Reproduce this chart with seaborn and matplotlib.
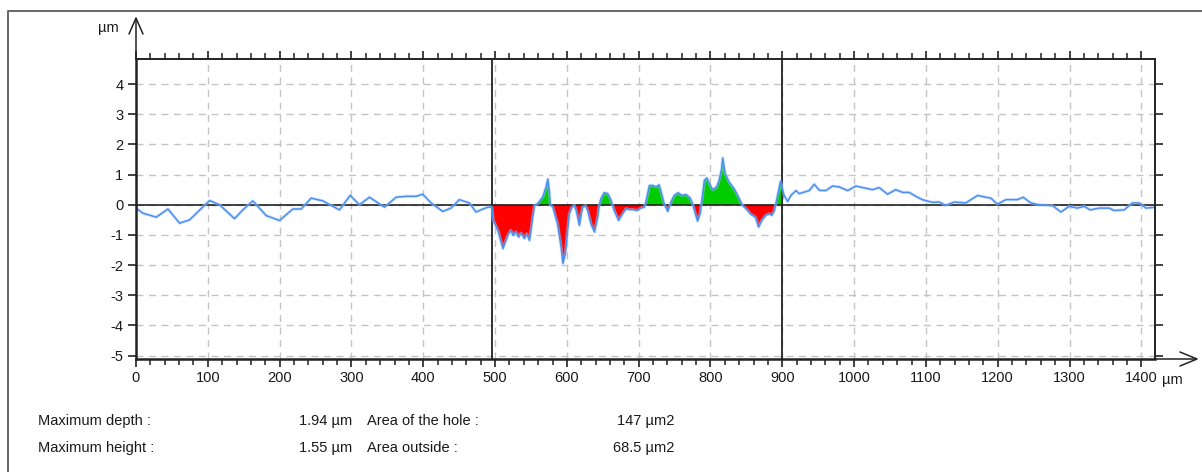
import numpy as np
import pandas as pd
import matplotlib
matplotlib.use("Agg")
import matplotlib.pyplot as plt
from matplotlib.ticker import MultipleLocator
from matplotlib.lines import Line2D
import seaborn as sns

# Surface profile (position in µm, height in µm)
profile_x = [0, 9.7, 28.2, 44.5, 60.7, 74.6, 102.4, 116.4, 137.2, 148.8, 162.7, 181.3,
             199.9, 218.4, 230.0, 243.9, 260.2, 283.4, 298.2, 311.2, 325.1, 346.0, 362.2,
             376.1, 390.0, 399.3, 410.9, 427.1, 438.7, 450.3, 464.2, 473.5, 482, 490,
             495.5, 497.5, 504, 511, 518, 522, 525, 529, 533, 536, 541, 544, 548, 550,
             552.5, 555, 559.5, 566.5, 571, 573.5, 575.5, 577, 580.5, 587, 592, 594.5,
             598, 601, 603.5, 607, 610.5, 613, 617.5, 620, 622, 626, 629, 633.5, 638.5,
             643, 645, 647.5, 652, 657, 661.5, 666, 672, 677.5, 682.5, 687, 691.5, 698.5,
             703, 708, 710, 715, 719.5, 724, 728.5, 732.5, 735.5, 740.5, 745, 749.5, 755,
             760, 766, 771.5, 775, 779, 782, 785.5, 788, 791.5, 795, 798.5, 803, 808.5,
             812, 815.5, 817, 820.5, 826, 833, 839, 844.5, 849.5, 856, 862.5, 867, 871.5,
             877, 882, 885.5, 889, 892.5, 897.5, 902.5, 907.5, 912, 919, 923.5, 930.5,
             937.5, 944.5, 951.5, 960.5, 970, 979.5, 991, 1002.5, 1014, 1025.5, 1035,
             1046.5, 1058, 1067.5, 1076.5, 1086, 1095, 1109, 1118.5, 1127.5, 1139.5,
             1155.5, 1172, 1183.5, 1190.5, 1199.5, 1211.5, 1227.5, 1235.5, 1246, 1257.5,
             1276.5, 1288, 1299.5, 1311, 1320.5, 1328.5, 1341.5, 1355, 1362, 1376,
             1387.5, 1397, 1406.5, 1416.5]
profile_y = [-0.11, -0.28, -0.41, -0.14, -0.61, -0.50, 0.14, 0.0, -0.46, -0.17, 0.13, -0.36,
             -0.52, -0.14, -0.14, 0.22, 0.13, -0.17, 0.31, 0.0, 0.25, -0.08, 0.25,
             0.28, 0.28, 0.35, 0.06, -0.22, -0.11, 0.17, 0.06, -0.24, -0.15, -0.08,
             -0.08, -0.52, -0.85, -1.45, -1.01, -0.85, -1.01, -0.90, -1.07, -0.94, -1.12, -0.96, -1.18, -0.85,
             -0.41, -0.02, 0.04, 0.26, 0.59, 0.85, 0.48, 0.0, -0.08, -0.63, -1.40, -1.94,
             -1.62, -0.85, -0.30, -0.08, -0.02, -0.19, -0.68, -0.30, -0.08, -0.03, -0.19, -0.63, -0.90,
             -0.41, -0.02, 0.20, 0.40, 0.37, 0.15, -0.19, -0.52, -0.30, -0.13, -0.16, -0.16, -0.19,
             -0.11, -0.08, 0.09, 0.64, 0.64, 0.59, 0.66, 0.31, 0.04, -0.22, 0.09, 0.31, 0.40,
             0.31, 0.34, 0.23, 0.04, -0.30, -0.54, -0.30, 0.15, 0.81, 0.89, 0.70, 0.50, 0.59,
             0.81, 1.19, 1.55, 1.03, 0.75, 0.53, 0.26, -0.02, -0.13, -0.31, -0.41, -0.74, -0.52,
             -0.35, -0.30, -0.35, -0.19, 0.20, 0.78, 0.31, 0.11, 0.31, 0.47, 0.37, 0.42,
             0.47, 0.68, 0.48, 0.47, 0.62, 0.59, 0.47, 0.62, 0.56, 0.50, 0.57,
             0.35, 0.50, 0.41, 0.41, 0.28, 0.17, 0.08, 0.09, -0.02, 0.09,
             0.06, 0.31, 0.25, 0.22, 0.02, 0.17, 0.17, 0.25, 0.06, 0.0,
             -0.03, -0.24, -0.05, -0.11, -0.05, -0.17, -0.11, -0.11, -0.19, -0.17,
             0.06, 0.06, -0.11, -0.09]

# Limits of the evaluated hole
hole_bounds = [495.5, 900]

# Summary values
stat_labels_left = ["Maximum depth :", "Maximum height :"]
stat_values_left = ["1.94 µm", "1.55 µm"]
stat_labels_right = ["Area of the hole :", "Area outside :"]
stat_values_right = ["147 µm2", "68.5 µm2"]

x_ticks = list(range(0, 1401, 100))
y_ticks = list(range(-5, 5))

sns.set_theme(style="white")
plt.rcParams["font.family"] = ["Liberation Sans", "DejaVu Sans"]
plt.rcParams["axes.unicode_minus"] = False

W, H = 1202, 472
fig = plt.figure(figsize=(W / 100, H / 100), dpi=100)
ax = fig.add_axes([136 / W, 1 - 359 / H, (1155 - 136) / W, (359 - 59) / H])

df = pd.DataFrame({"x": profile_x, "y": profile_y})

# Fill the hole region: below zero red, above zero green
xa = np.array(profile_x, dtype=float)
ya = np.array(profile_y, dtype=float)
xs = np.union1d(xa, hole_bounds)
ys = np.interp(xs, xa, ya)
inside = (xs >= hole_bounds[0]) & (xs <= hole_bounds[1])
ax.fill_between(xs, ys, 0, where=inside & (ys <= 0), interpolate=True,
                color="#ff0000", linewidth=0, zorder=2)
ax.fill_between(xs, ys, 0, where=inside & (ys >= 0), interpolate=True,
                color="#00cc00", linewidth=0, zorder=2)

# Soft halo under the profile, then the profile itself
sns.lineplot(data=df, x="x", y="y", ax=ax, color="#a6c8ff", linewidth=2.3, alpha=0.5,
             sort=False, estimator=None, zorder=4, solid_joinstyle="round")
sns.lineplot(data=df, x="x", y="y", ax=ax, color="#4a90f0", linewidth=1.1,
             sort=False, estimator=None, zorder=4, solid_joinstyle="round")

ax.axhline(0, color="#222222", linewidth=1.2, zorder=3)
for b in hole_bounds:
    ax.axvline(b, color="#222222", linewidth=1.3, zorder=3)

ax.set_xlim(0, 1419)
ax.set_ylim(-5.11, 4.83)
ax.set_xlabel("")
ax.set_ylabel("")

ax.set_xticks(x_ticks)
ax.set_yticks(y_ticks)
ax.xaxis.set_minor_locator(MultipleLocator(20))

ax.grid(True, which="major", color="#c4c4c4", linestyle=(0, (5, 4)), linewidth=1.0, zorder=0)

ax.tick_params(axis="x", which="major", direction="out", length=6, width=1.2,
               color="#222222", labelsize=10.5, labelcolor="#1a1a1a", pad=3,
               top=True, bottom=True)
ax.tick_params(axis="x", which="minor", direction="out", length=4.5, width=1.1,
               color="#222222", top=True, bottom=True)
ax.tick_params(axis="y", which="major", direction="out", length=6, width=1.2,
               color="#222222", labelsize=10.5, labelcolor="#1a1a1a", pad=3,
               left=True, right=True)

for side, sp in ax.spines.items():
    sp.set_color("#222222")
    sp.set_linewidth(1.4 if side in ("top", "right") else 1.8)
    sp.set_zorder(5)

# Axis arrows
fig.add_artist(Line2D([136 / W, 136 / W], [1 - 59 / H, 1 - 19 / H],
                      color="#222222", linewidth=1.1))
fig.add_artist(Line2D([129 / W, 136 / W, 143 / W], [1 - 34 / H, 1 - 18 / H, 1 - 34 / H],
                      color="#222222", linewidth=1.1))
fig.add_artist(Line2D([1155 / W, 1196 / W], [1 - 359 / H, 1 - 359 / H],
                      color="#222222", linewidth=1.1))
fig.add_artist(Line2D([1180 / W, 1197 / W, 1180 / W], [1 - 352 / H, 1 - 359 / H, 1 - 366 / H],
                      color="#222222", linewidth=1.1))

# Unit labels
fig.text(108 / W, 1 - 28 / H, "µm", ha="center", va="center", fontsize=10.5, color="#1a1a1a")
fig.text(1162 / W, 1 - 380 / H, "µm", ha="left", va="center", fontsize=10.5, color="#1a1a1a")

# Panel border
fig.add_artist(Line2D([8 / W, 8 / W, 1.0], [0.0, 1 - 11 / H, 1 - 11 / H],
                      color="#666666", linewidth=1.4))

# Summary block
rows_y = [421, 448]
for i, yy in enumerate(rows_y):
    fy = 1 - yy / H
    fig.text(38 / W, fy, stat_labels_left[i], ha="left", va="center", fontsize=10.5, color="#1a1a1a")
    fig.text(352 / W, fy, stat_values_left[i], ha="right", va="center", fontsize=10.5, color="#1a1a1a")
    fig.text(367 / W, fy, stat_labels_right[i], ha="left", va="center", fontsize=10.5, color="#1a1a1a")
    fig.text(674 / W, fy, stat_values_right[i], ha="right", va="center", fontsize=10.5, color="#1a1a1a")

fig.savefig("out.png", dpi=100, facecolor="white")
